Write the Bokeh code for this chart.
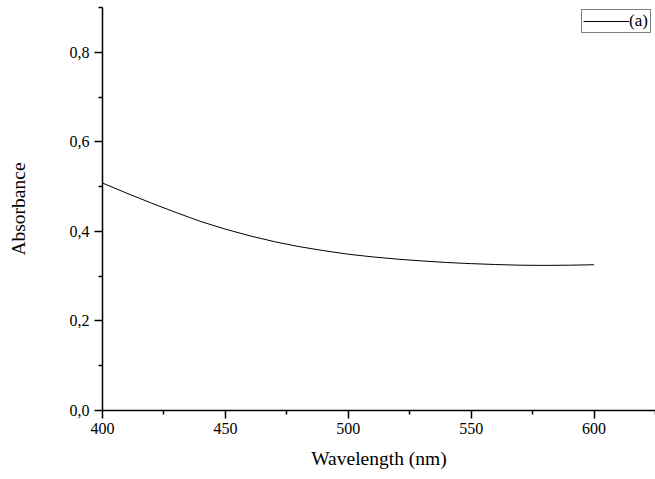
from bokeh.plotting import figure
from bokeh.models import FixedTicker, CustomJSTickFormatter, Range1d, Legend, LegendItem
from bokeh.embed import file_html
from bokeh.resources import INLINE

# Data
wavelength = [400, 410, 420, 430, 440, 450, 460, 470, 480, 490, 500,
              510, 520, 530, 540, 550, 560, 570, 580, 590, 600]
absorbance = [0.508, 0.485, 0.463, 0.442, 0.422, 0.405, 0.390, 0.377, 0.366, 0.357, 0.349,
              0.343, 0.338, 0.334, 0.3305, 0.328, 0.326, 0.3245, 0.324, 0.3245, 0.3255]
series_name = "(a)"
x_major = [400, 450, 500, 550, 600]
x_minor = [425, 475, 525, 575, 625]
y_major = [0.0, 0.2, 0.4, 0.6, 0.8]
y_minor = [0.1, 0.3, 0.5, 0.7, 0.9]

FONT = "Liberation Serif"

p = figure(width=655, height=479, output_backend="svg", toolbar_location=None,
           x_range=Range1d(400, 625), y_range=Range1d(0, 0.9),
           min_border_left=102, min_border_right=0, min_border_top=7, min_border_bottom=69)
p.outline_line_color = None
p.xgrid.visible = False
p.ygrid.visible = False

r = p.line(wavelength, absorbance, line_color="black", line_width=1)

for ax in (p.xaxis[0], p.yaxis[0]):
    ax.axis_line_color = "black"
    ax.axis_line_width = 1.5
    ax.major_tick_line_color = "black"
    ax.minor_tick_line_color = "black"
    ax.major_tick_line_width = 1.5
    ax.minor_tick_line_width = 1.5
    ax.major_tick_in = 0
    ax.major_tick_out = 8
    ax.minor_tick_in = 0
    ax.minor_tick_out = 4
    ax.major_label_text_font = FONT
    ax.major_label_text_font_size = "16px"
    ax.major_label_text_color = "black"
    ax.axis_label_text_font = FONT
    ax.axis_label_text_font_size = "19.5px"
    ax.axis_label_text_font_style = "normal"
    ax.axis_label_text_color = "black"

p.xaxis[0].ticker = FixedTicker(ticks=x_major, minor_ticks=x_minor)
p.yaxis[0].ticker = FixedTicker(ticks=y_major, minor_ticks=y_minor)
p.yaxis[0].formatter = CustomJSTickFormatter(code="return tick.toFixed(1).replace('.', ',');")
p.xaxis[0].axis_label = "Wavelength (nm)"
p.yaxis[0].axis_label = "Absorbance"
p.xaxis[0].major_label_standoff = 4
p.yaxis[0].major_label_standoff = 5
p.xaxis[0].axis_label_standoff = 11
p.yaxis[0].axis_label_standoff = 38

legend = Legend(items=[LegendItem(label=series_name, renderers=[r])],
                location=(479, 377))
legend.border_line_color = "black"
legend.border_line_width = 1
legend.background_fill_color = "white"
legend.background_fill_alpha = 1
legend.label_text_font = FONT
legend.label_text_font_size = "17px"
legend.label_text_color = "black"
legend.padding = 1
legend.margin = 0
legend.spacing = 0
legend.glyph_width = 46
legend.glyph_height = 12
legend.label_height = 12
legend.label_width = 20
legend.label_standoff = 0
p.add_layout(legend)

open("out.html", "w").write(file_html(p, INLINE))
